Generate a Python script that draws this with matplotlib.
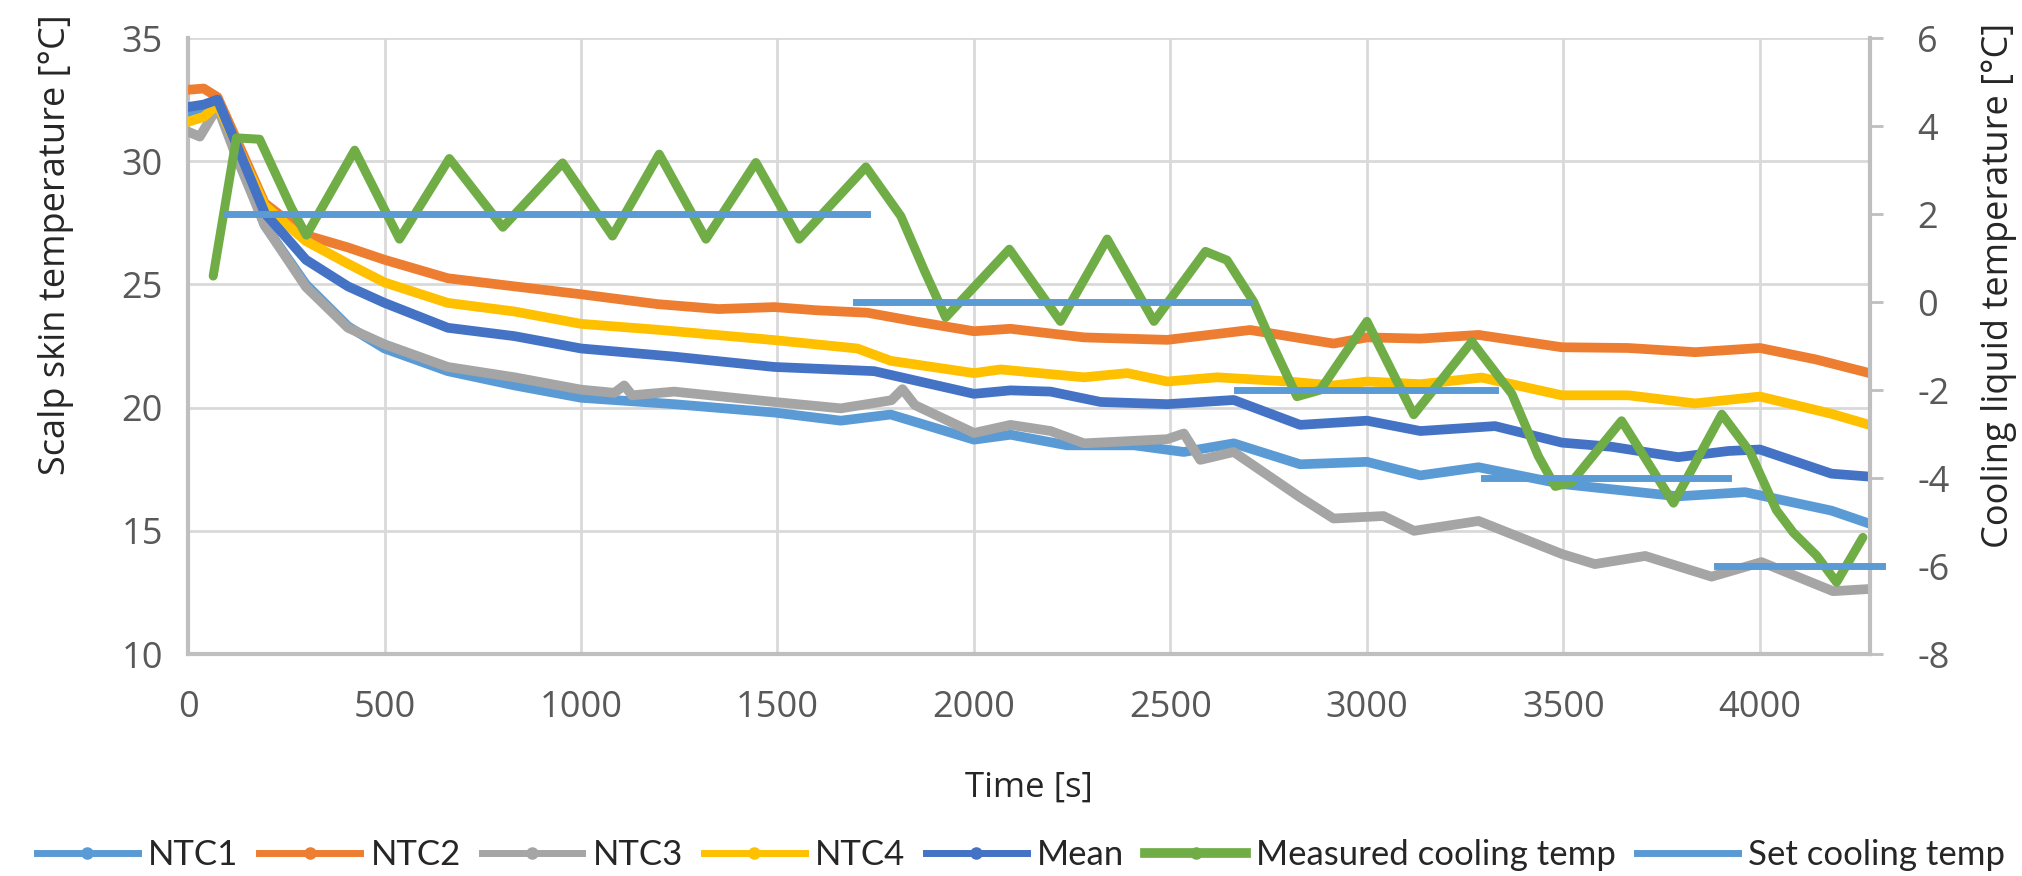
import matplotlib.pyplot as plt
from matplotlib.lines import Line2D

# scalp skin temperatures (left axis)
t_ntc1 = [0, 40, 75, 120, 195, 300, 407, 500, 661, 831, 1000, 1237, 1492, 1661, 1788, 2000, 2093,
          2237, 2407, 2534, 2661, 2830, 3000, 3136, 3284, 3496, 3792, 3962, 4182, 4279]
ntc1 = [32.0, 32.2, 32.4, 30.5, 27.4, 25.0, 23.3, 22.4, 21.48, 20.9, 20.4, 20.14, 19.8, 19.47, 19.72,
        18.7, 18.9, 18.47, 18.47, 18.2, 18.55, 17.7, 17.8, 17.25, 17.58, 16.9, 16.4, 16.57, 15.82, 15.29]

t_ntc2 = [0, 40, 75, 120, 195, 300, 407, 500, 661, 831, 1000, 1195, 1350, 1492, 1600, 1729, 1850,
          2000, 2093, 2280, 2492, 2703, 2915, 3000, 3136, 3284, 3496, 3665, 3835, 4000, 4144, 4279]
ntc2 = [32.9, 32.95, 32.6, 31.0, 28.3, 27.0, 26.5, 26.0, 25.25, 24.92, 24.6, 24.2, 24.0, 24.08, 23.95,
        23.85, 23.5, 23.1, 23.2, 22.85, 22.75, 23.15, 22.6, 22.85, 22.8, 22.95, 22.45, 22.42, 22.25,
        22.42, 21.95, 21.4]

t_ntc3 = [0, 30, 75, 120, 195, 300, 407, 500, 661, 831, 1000, 1085, 1110, 1130, 1237, 1492, 1661,
          1790, 1818, 1850, 2000, 2093, 2195, 2280, 2492, 2534, 2576, 2661, 2830, 2915, 3042, 3120,
          3284, 3496, 3580, 3708, 3877, 4004, 4186, 4279]
ntc3 = [31.2, 31.0, 32.2, 30.3, 27.4, 24.9, 23.24, 22.57, 21.65, 21.23, 20.73, 20.6, 20.9, 20.5,
        20.65, 20.23, 19.97, 20.3, 20.75, 20.1, 18.97, 19.3, 19.05, 18.55, 18.72, 18.95, 17.88, 18.2,
        16.36, 15.5, 15.6, 15.0, 15.4, 14.06, 13.65, 13.98, 13.14, 13.73, 12.55, 12.64]

t_ntc4 = [0, 40, 75, 120, 195, 300, 407, 500, 661, 831, 1000, 1195, 1492, 1703, 1788, 2000, 2068,
          2280, 2390, 2492, 2619, 2800, 2915, 3000, 3136, 3292, 3496, 3665, 3835, 4000, 4182, 4279]
ntc4 = [31.6, 31.8, 32.3, 30.8, 28.2, 26.76, 25.84, 25.08, 24.25, 23.9, 23.4, 23.16, 22.74, 22.4,
        21.9, 21.4, 21.55, 21.23, 21.4, 21.06, 21.23, 21.06, 20.9, 21.06, 20.95, 21.22, 20.5, 20.5,
        20.17, 20.45, 19.75, 19.3]

t_mean = [0, 40, 75, 120, 195, 300, 407, 500, 661, 831, 1000, 1237, 1492, 1746, 2000, 2093, 2195,
          2322, 2492, 2661, 2830, 3000, 3136, 3326, 3496, 3623, 3792, 3920, 4000, 4182, 4279]
mean = [32.2, 32.3, 32.5, 30.8, 27.9, 26.0, 24.92, 24.25, 23.24, 22.9, 22.4, 22.07, 21.65, 21.48,
        20.56, 20.7, 20.65, 20.23, 20.14, 20.31, 19.3, 19.47, 19.05, 19.25, 18.58, 18.41, 17.99,
        18.24, 18.3, 17.32, 17.2]

# cooling liquid (right axis)
t_meas = [64, 123, 182, 263, 301, 424, 538, 665, 801, 953, 1080, 1199, 1318, 1445, 1555, 1725,
          1814, 1873, 1928, 2090, 2220, 2339, 2458, 2589, 2644, 2712, 2763, 2822, 2881, 3000, 3119,
          3267, 3369, 3436, 3479, 3520, 3648, 3780, 3903, 3975, 4042, 4085, 4144, 4195, 4262]
meas = [0.59, 3.73, 3.7, 2.14, 1.52, 3.45, 1.43, 3.26, 1.7, 3.16, 1.5, 3.36, 1.43, 3.17, 1.43, 3.07,
        1.95, 0.73, -0.35, 1.2, -0.44, 1.43, -0.44, 1.15, 0.95, 0.0, -1.03, -2.15, -2.0, -0.44, -2.56,
        -0.9, -2.09, -3.5, -4.19, -4.1, -2.7, -4.57, -2.55, -3.41, -4.73, -5.24, -5.76, -6.37, -5.35]

set_start = [98, 1699, 2669, 3297, 3890]
set_end = [1729, 2699, 3326, 3920, 4310]
set_temp = [2, 0, -2, -4, -6]

right_ticks = [-8, -6, -4, -2, 0, 2, 4, 6]
right_labels = ['-8', '-6', '-4', '-2', '0', '2', '4', '6']

c_ntc1 = '#5B9BD5'
c_ntc2 = '#ED7D31'
c_ntc3 = '#A5A5A5'
c_ntc4 = '#FFC000'
c_mean = '#4472C4'
c_meas = '#70AD47'
c_set = '#5B9BD5'
c_axis = '#BFBFBF'
c_grid = '#D9D9D9'
c_text = '#595959'

plt.rcParams['font.family'] = ['Open Sans', 'DejaVu Sans']

fig = plt.figure(figsize=(20.22, 8.76), dpi=100)
ax = fig.add_axes([0.093, 0.2534, 0.8318, 0.7032])

lw = 7
style = dict(lw=lw, solid_capstyle='round', solid_joinstyle='round', zorder=3)
ax.plot(t_ntc1, ntc1, color=c_ntc1, **style)
ax.plot(t_ntc2, ntc2, color=c_ntc2, **style)
ax.plot(t_ntc3, ntc3, color=c_ntc3, **style)
ax.plot(t_ntc4, ntc4, color=c_ntc4, **style)
ax.plot(t_mean, mean, color=c_mean, **style)

ax.set_xlim(0, 4280)
ax.set_ylim(10, 35)
ax.set_xticks(range(0, 4001, 500))
ax.set_yticks(range(10, 36, 5))
ax.grid(True, color=c_grid, lw=2)
ax.set_axisbelow(True)
for s in ['top', 'right']:
    ax.spines[s].set_visible(False)
for s in ['left', 'bottom']:
    ax.spines[s].set_color(c_axis)
    ax.spines[s].set_linewidth(3)
ax.tick_params(axis='both', length=0, labelsize=26, labelcolor=c_text)
ax.tick_params(axis='x', pad=26)
ax.tick_params(axis='y', pad=18)

ax.set_xlabel('Time [s]', fontsize=25, color='#262626')
ax.xaxis.set_label_coords(0.5, -0.19)
ax.set_ylabel('Scalp skin temperature [°C]', fontsize=26, color='#262626')
ax.yaxis.set_label_coords(-0.068, 0.665)

ax2 = ax.twinx()
ax2.plot(t_meas, meas, color=c_meas, lw=6.5, solid_capstyle='round', solid_joinstyle='round', zorder=4)
for x0, x1, v in zip(set_start, set_end, set_temp):
    ax2.plot([x0, x1], [v, v], color=c_set, lw=5, clip_on=False, zorder=5)
ax2.set_ylim(-8, 6)
ax2.set_yticks(right_ticks)
ax2.set_yticklabels(right_labels)
for s in ['top', 'left', 'bottom']:
    ax2.spines[s].set_visible(False)
ax2.spines['right'].set_color(c_axis)
ax2.spines['right'].set_linewidth(3)
ax2.tick_params(axis='y', length=9, width=2, color=c_axis, labelsize=26, labelcolor=c_text, pad=25)
ax2.set_ylabel('Cooling liquid temperature [°C]', fontsize=26, color='#262626')
ax2.yaxis.set_label_coords(1.066, 0.598)

handles = [
    Line2D([], [], color=c_ntc1, lw=5, marker='o', ms=8),
    Line2D([], [], color=c_ntc2, lw=5, marker='o', ms=8),
    Line2D([], [], color=c_ntc3, lw=5, marker='o', ms=8),
    Line2D([], [], color=c_ntc4, lw=5, marker='o', ms=8),
    Line2D([], [], color=c_mean, lw=5, marker='o', ms=8),
    Line2D([], [], color=c_meas, lw=7, marker='o', ms=8),
    Line2D([], [], color=c_set, lw=5),
]
labels = ['NTC1', 'NTC2', 'NTC3', 'NTC4', 'Mean', 'Measured cooling temp', 'Set cooling temp']
fig.legend(handles, labels, loc='center', bbox_to_anchor=(0.505, 0.024), ncol=7, frameon=False,
           prop={'family': ['Lato', 'DejaVu Sans'], 'size': 25}, borderpad=0, borderaxespad=0,
           handlelength=2.9, handletextpad=0.3, columnspacing=0.6, labelcolor='#262626')

fig.savefig('out.png', dpi=100)
